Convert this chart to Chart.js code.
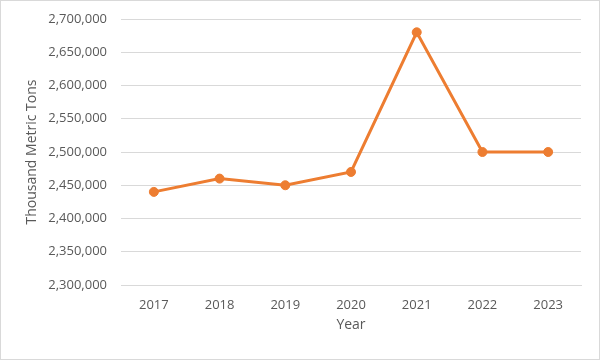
<!DOCTYPE html>
<html>
<head>
<meta charset="utf-8">
<script src="https://cdn.jsdelivr.net/npm/chart.js@4"></script>
<style>
html,body{margin:0;padding:0;background:#fff;}
#wrap{width:600px;height:360px;box-sizing:border-box;border:1px solid #d9d9d9;position:relative;}
canvas{display:block;}
</style>
</head>
<body>
<div id="wrap"><canvas id="c" width="598" height="358"></canvas></div>
<script>
const years = ["2017","2018","2019","2020","2021","2022","2023"];
const production = [2440000, 2460000, 2450000, 2470000, 2680000, 2500000, 2500000];
const yMin = 2300000, yMax = 2700000, yStep = 50000;
const yTitle = "Thousand Metric Tons";
const xTitle = "Year";

const font = "'Open Sans', 'Liberation Sans', sans-serif";
Chart.defaults.font.family = font;
Chart.defaults.color = "#595959";

new Chart(document.getElementById('c'), {
  type: 'line',
  data: {
    labels: years,
    datasets: [{
      data: production,
      borderColor: '#ED7D31',
      backgroundColor: '#ED7D31',
      borderWidth: 3,
      pointRadius: 4.5,
      pointHoverRadius: 4.5,
      pointBorderWidth: 1,
      pointBackgroundColor: '#ED7D31',
      pointBorderColor: '#ED7D31',
      tension: 0
    }]
  },
  options: {
    responsive: false,
    animation: false,
    devicePixelRatio: 1,
    layout: { padding: { left: 0, right: 18, top: 0, bottom: 14 } },
    plugins: { legend: { display: false }, tooltip: { enabled: false } },
    scales: {
      x: {
        offset: true,
        grid: { display: false, drawTicks: false },
        border: { display: true, color: '#d9d9d9', width: 1 },
        ticks: { font: { size: 13 }, padding: 12, color: '#595959' },
        title: { display: true, text: xTitle, font: { size: 14 }, color: '#595959', padding: { top: 4, bottom: 12 } },
        afterFit: s => { s.height = 60; }
      },
      y: {
        min: yMin, max: yMax,
        grid: { color: '#d9d9d9', drawTicks: false, lineWidth: 1 },
        border: { display: false },
        ticks: {
          stepSize: yStep, padding: 14, font: { size: 13 }, color: '#595959',
          callback: v => Number(v).toLocaleString('en-US')
        },
        title: { display: true, text: yTitle, font: { size: 14 }, color: '#595959', padding: { top: 23, bottom: 4 } },
        afterFit: s => { s.width = 120; s.paddingTop = 18; s.paddingBottom = 8; }
      }
    }
  }
});
</script>
</body>
</html>
